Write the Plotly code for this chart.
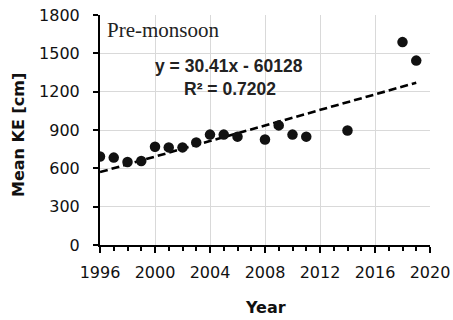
import plotly.graph_objects as go

years = [1996, 1997, 1998, 1999, 2000, 2001, 2002, 2003, 2004, 2005, 2006,
         2008, 2009, 2010, 2011, 2014, 2018, 2019]
mean_ke = [692, 684, 650, 658, 769, 764, 764, 803, 864, 864, 848,
           825, 936, 864, 848, 896, 1588, 1443]
slope = 30.41
intercept = -60128
trend_x = [1996, 2019]
trend_y = [slope * x + intercept for x in trend_x]

fig = go.Figure()
fig.add_trace(go.Scatter(x=trend_x, y=trend_y, mode="lines",
                         line=dict(color="black", width=2.6, dash="8px,4px"),
                         showlegend=False, hoverinfo="skip"))
fig.add_trace(go.Scatter(x=years, y=mean_ke, mode="markers",
                         marker=dict(color="#111111", size=10.5),
                         showlegend=False))

fig.add_annotation(x=105, y=30, xref="paper", yref="paper", text="Pre-monsoon",
                   showarrow=False, xanchor="left", yanchor="middle",
                   font=dict(family="Liberation Serif", size=21, color="#222"))
# annotations positioned in pixel terms converted to paper below
ann_eq = dict(text="<b>y = 30.41x - 60128</b>", cx=229, cy=66)
ann_r2 = dict(text="<b>R² = 0.7202</b>", cx=230, cy=89)

L, R, T, B = 100, 23, 15, 75
W, H = 453, 320
pw, ph = W - L - R, H - T - B

def px_to_paper(x, y):
    return (x - L) / pw, (H - B - y) / ph

fig.layout.annotations = []
x0, y0 = px_to_paper(105, 30)
fig.add_annotation(x=x0, y=y0, xref="paper", yref="paper", text="Pre-monsoon",
                   showarrow=False, xanchor="left", yanchor="middle",
                   font=dict(family="Liberation Serif", size=21, color="#222"))
for a in (ann_eq, ann_r2):
    ax, ay = px_to_paper(a["cx"], a["cy"])
    fig.add_annotation(x=ax, y=ay, xref="paper", yref="paper", text=a["text"],
                       showarrow=False, xanchor="center", yanchor="middle",
                       font=dict(family="Liberation Sans", size=17.5, color="#222"))
ax, ay = px_to_paper(18, 135)
fig.add_annotation(x=ax, y=ay, xref="paper", yref="paper", text="<b>Mean KE [cm]</b>",
                   showarrow=False, xanchor="center", yanchor="middle", textangle=-90,
                   font=dict(family="DejaVu Sans", size=16, color="#111"))
ax, ay = px_to_paper(265, 307)
fig.add_annotation(x=ax, y=ay, xref="paper", yref="paper", text="<b>Year</b>",
                   showarrow=False, xanchor="center", yanchor="middle",
                   font=dict(family="DejaVu Sans", size=16, color="#111"))

fig.update_layout(
    width=W, height=H,
    margin=dict(l=L, r=R, t=T, b=B, autoexpand=False),
    paper_bgcolor="white", plot_bgcolor="white",
    font=dict(family="DejaVu Sans", size=16, color="#111"),
    xaxis=dict(range=[1996, 2020], tickmode="array",
               tickvals=[1996, 2000, 2004, 2008, 2012, 2016, 2020],
               showgrid=True, gridcolor="#d9d9d9", gridwidth=1,
               showline=True, linecolor="black", linewidth=2,
               ticks="outside", ticklen=6, tickwidth=1.5, tickcolor="black",
               minor=dict(dtick=1, ticks="outside", ticklen=4, tickwidth=1.5, tickcolor="black", showgrid=False),
               zeroline=False, ticklabelstandoff=6,
               tickfont=dict(size=16)),
    yaxis=dict(range=[0, 1800], tickmode="array",
               tickvals=[0, 300, 600, 900, 1200, 1500, 1800],
               showgrid=True, gridcolor="#d9d9d9", gridwidth=1,
               showline=True, linecolor="black", linewidth=2,
               ticks="outside", ticklen=5, tickwidth=1.5, tickcolor="black",
               zeroline=False, ticklabelstandoff=10,
               tickfont=dict(size=16)),
)

fig.write_html("out.html")
